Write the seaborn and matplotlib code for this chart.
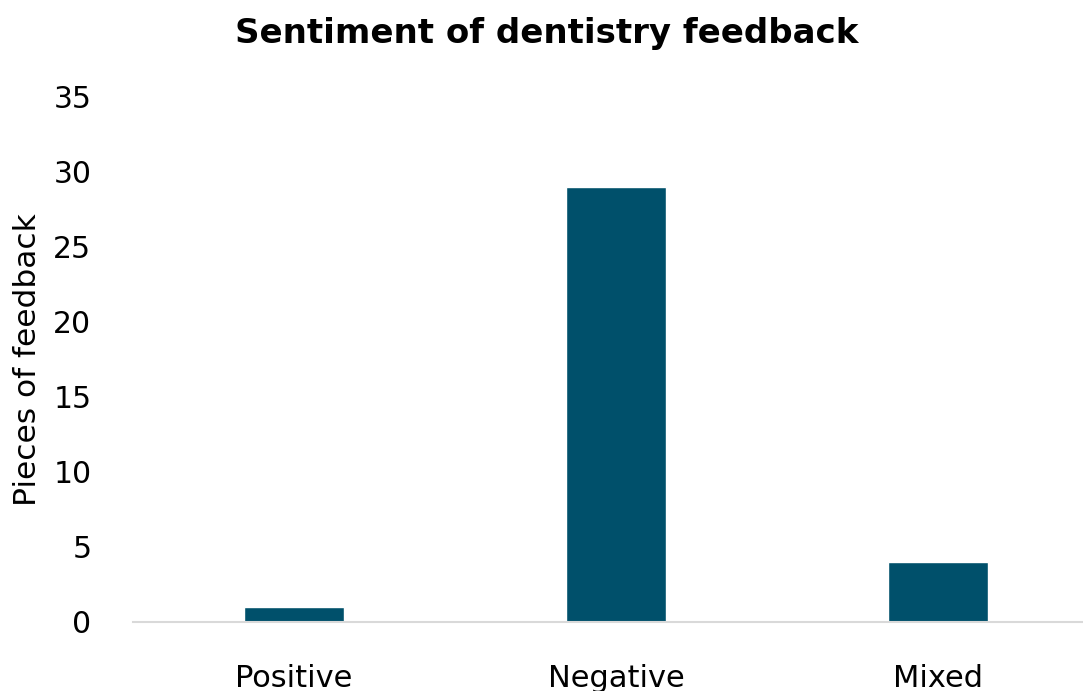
import matplotlib
matplotlib.use("Agg")
import matplotlib.pyplot as plt
import seaborn as sns
import pandas as pd

# veriler
categories = ["Positive", "Negative", "Mixed"]
counts = [1, 29, 4]
y_ticks = [0, 5, 10, 15, 20, 25, 30, 35]

df = pd.DataFrame({"sentiment": categories, "count": counts})

sns.set_style("white")
plt.rcParams["font.family"] = ["DejaVu Sans"]
plt.rcParams["text.color"] = "black"
plt.rcParams["xtick.color"] = "black"
plt.rcParams["ytick.color"] = "black"
plt.rcParams["axes.labelcolor"] = "black"

fig = plt.figure(figsize=(10.83, 6.91), dpi=100)
ax = fig.add_axes([0.1228, 0.0999, 0.892, 0.76])

sns.barplot(data=df, x="sentiment", y="count", color="#00506B",
            width=0.31, saturation=1, ax=ax)

ax.set_xlim(-0.5, 2.5)
ax.set_ylim(0, 35)
ax.set_yticks(y_ticks)
ax.tick_params(axis="y", length=0, pad=30, labelsize=21.5)
ax.tick_params(axis="x", length=0, pad=30, labelsize=22)

for s in ["top", "right", "left"]:
    ax.spines[s].set_visible(False)
ax.spines["bottom"].set_color("#D9D9D9")
ax.spines["bottom"].set_linewidth(1.5)

ax.set_xlabel("")
ax.set_ylabel("Pieces of feedback", fontsize=22.5, labelpad=8)
fig.suptitle("Sentiment of dentistry feedback", fontsize=24.5, fontweight="bold",
             x=0.505, y=0.975)

fig.savefig("out.png", dpi=100)
